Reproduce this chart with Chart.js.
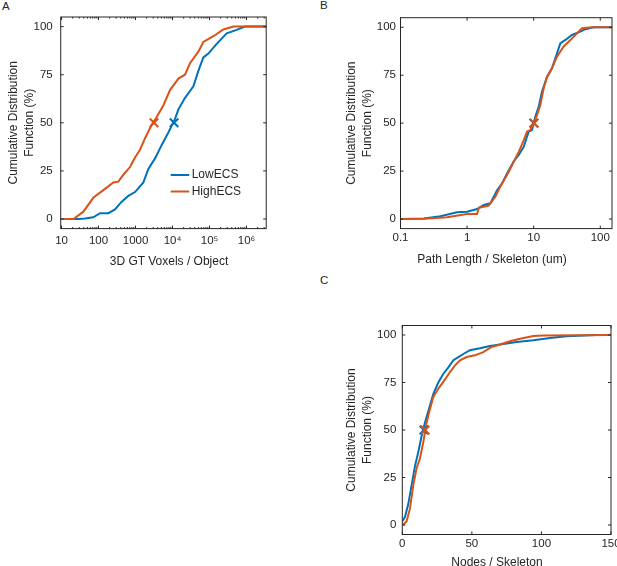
<!DOCTYPE html>
<html lang="en">
<head>
<meta charset="utf-8">
<title>Cumulative distributions: LowECS vs HighECS</title>
<script src="https://cdn.jsdelivr.net/npm/chart.js@4.4.1/dist/chart.umd.min.js"></script>
<style>
    html, body { margin: 0; padding: 0; background: #fff; overflow: hidden; }
    #wrapper {
        position: relative; width: 617px; height: 566px; overflow: hidden;
        font-family: "Liberation Sans", Arial, sans-serif; color: #262626;
    }
    .panel-letter { position: absolute; font-size: 11.5px; line-height: 11.5px; }
    .x-title { position: absolute; width: 240px; text-align: center; font-size: 12px; line-height: 14px; white-space: nowrap; }
    canvas { position: absolute; }
</style>
</head>
<body>
<div id="wrapper"><!-- figure wrapper -->
    <div class="panel-letter" style="left:2px; top:1px;">A</div>
    <div class="panel-letter" style="left:320px; top:0px;">B</div>
    <div class="panel-letter" style="left:320px; top:275px;">C</div>

    <canvas id="chartA" width="300" height="290" style="left:0px; top:0px;"></canvas>
    <canvas id="chartB" width="330" height="290" style="left:300px; top:0px;"></canvas>
    <canvas id="chartC" width="330" height="300" style="left:300px; top:280px;"></canvas>

    <div class="x-title" style="left:49px; top:254px;">3D GT Voxels / Object</div>
    <div class="x-title" style="left:372px; top:252px;">Path Length / Skeleton (um)</div>
    <div class="x-title" style="left:377px; top:555px;">Nodes / Skeleton</div>
</div>

<script>
// ---- data ----
var seriesNames = ['LowECS', 'HighECS'];
var yTicks = [0, 25, 50, 75, 100];

// A: voxels per object (log x)
var aLowX  = [9.5, 28.5, 43, 72, 110, 185, 279, 423, 640, 970, 1630, 2220, 3370, 5100, 7710, 11700, 14400, 21800, 36600, 49900, 68100, 93000, 156000, 291000, 542000, 910000, 3400000];
var aLowY  = [0, 0, 0.3, 0.9, 3, 3, 5, 9, 12, 14, 19, 26, 31.5, 38.5, 45, 52, 57, 63, 69, 77, 84, 86, 91, 96.5, 98.3, 100, 100];
var aHighX = [9.5, 21, 39, 72, 135, 252, 344, 469, 710, 970, 1320, 1810, 2740, 3730, 5640, 8550, 14400, 21700, 29700, 49900, 68100, 127000, 237000, 441000, 3400000];
var aHighY = [0, 0, 3.8, 11, 15, 19, 19.4, 23, 27, 32, 36, 42, 49, 53, 59, 67, 73, 75, 81, 87, 92, 95, 98.5, 100, 100];
var aMedLow = [11000, 50];
var aMedHigh = [3160, 50];
var aXTicks = [10, 100, 1000, 1e4, 1e5, 1e6];
var aXLabels = ['10', '100', '1000', '10\u2074', '10\u2075', '10\u2076'];

// B: path length per skeleton (log x)
var bLowX  = [0.1, 0.224, 0.398, 0.708, 1, 1.41, 1.78, 2.24, 2.82, 3.35, 3.98, 5.01, 5.96, 7.08, 8.41, 9.44, 10.6, 11.9, 13.3, 15.8, 18.8, 22.4, 25.1, 29.9, 37.6, 50.1, 59.6, 79.4, 150];
var bLowY  = [0, 0.3, 1.4, 3.5, 3.8, 5.2, 7.3, 8.2, 15, 18.6, 23.8, 30, 33.4, 37.7, 45.6, 46.4, 53.4, 58.6, 66.4, 74, 78.6, 86.4, 91.6, 93.4, 96, 97.7, 99, 100, 100];
var bHighX = [0.1, 0.224, 0.501, 1, 1.41, 1.5, 1.78, 2.11, 2.66, 3.16, 3.98, 4.73, 5.31, 5.96, 7.08, 7.94, 8.91, 10, 11.2, 12.6, 14.1, 15.8, 18.8, 22.4, 28.2, 33.5, 39.8, 53.1, 75, 150];
var bHighY = [0, 0.2, 0.9, 2.6, 2.6, 5.9, 6.4, 7, 11.6, 17, 23, 28, 31.6, 35, 41, 45.6, 46.4, 50, 54, 59.5, 68, 74, 78.6, 84.7, 90, 92.5, 95, 99.5, 100, 100];
var bMedLow = [10, 50];
var bMedHigh = [10.2, 50];
var bXTicks = [0.1, 1, 10, 100];
var bXLabels = ['0.1', '1', '10', '100'];

// C: nodes per skeleton (linear x)
var cLowX  = [0, 1.9, 4.3, 6.7, 9.1, 11.5, 13.9, 16.3, 18.7, 22.3, 25.9, 29.5, 33.1, 36.7, 40.3, 43.9, 48.6, 55.8, 63, 70.2, 82.2, 94.2, 106.2, 118.1, 140];
var cLowY  = [2, 4.2, 11, 21, 31, 38.4, 47, 54, 60, 69, 75, 79.6, 83, 86.7, 88.4, 90, 92, 93, 94.2, 95, 96.3, 97.2, 98.4, 99.3, 100];
var cHighX = [0.5, 3.1, 5.5, 7.9, 10.3, 12.7, 15.1, 17.5, 19.9, 22.3, 25.9, 29.5, 34.3, 37.9, 41.5, 46.2, 52.2, 58.2, 64.2, 70.2, 77.4, 84.6, 94.2, 101.4, 150];
var cHighY = [0, 2, 8.6, 21, 30, 35, 43.7, 54, 61, 67.4, 71.8, 75.3, 80.5, 84, 86.7, 88.4, 89.3, 91, 93.7, 95, 96.7, 98, 99.5, 99.8, 100];
var cMedLow = [15.5, 50];
var cMedHigh = [16.4, 50];
var cXTicks = [0, 50, 100, 150];
var cXLabels = ['0', '50', '100', '150'];

// ---- styling ----
var LOW_COLOR = '#0072BD';
var HIGH_COLOR = '#D95319';
var INK = '#262626';
Chart.defaults.font.family = '"Liberation Sans", Arial, sans-serif';
Chart.defaults.color = INK;

function toPoints(xs, ys) {
    return xs.map(function (x, i) { return { x: x, y: ys[i] }; });
}

// box round the axes with inward ticks on all four sides (matlab look)
var boxTicks = {
    id: 'boxTicks',
    afterDatasetsDraw: function (chart, args, opts) {
        var ctx = chart.ctx, a = chart.chartArea;
        var xs = chart.scales.x, ys = chart.scales.y;
        var seg = function (x1, y1, x2, y2) { ctx.moveTo(x1, y1); ctx.lineTo(x2, y2); };
        ctx.save();
        ctx.strokeStyle = INK;
        ctx.lineWidth = 1;
        ctx.beginPath();
        xs.ticks.forEach(function (t) {
            var p = xs.getPixelForValue(t.value);
            seg(p, a.bottom, p, a.bottom - 3);
            seg(p, a.top, p, a.top + 3);
        });
        ys.ticks.forEach(function (t) {
            var p = ys.getPixelForValue(t.value);
            seg(a.left, p, a.left + 3, p);
            seg(a.right, p, a.right - 3, p);
        });
        if (opts.minor) {
            for (var d = Math.floor(Math.log10(xs.min)); d <= Math.ceil(Math.log10(xs.max)); d++) {
                for (var k = 2; k <= 9; k++) {
                    var v = k * Math.pow(10, d);
                    if (v < xs.min || v > xs.max) continue;
                    var p = xs.getPixelForValue(v);
                    seg(p, a.bottom, p, a.bottom - 1.6);
                    seg(p, a.top, p, a.top + 1.6);
                }
            }
        }
        ctx.stroke();
        ctx.strokeRect(a.left, a.top, a.right - a.left, a.bottom - a.top);
        ctx.restore();
    }
};

// legend inside panel A
var cdfLegend = {
    id: 'cdfLegend',
    afterDraw: function (chart, args, opts) {
        var ctx = chart.ctx;
        ctx.save();
        ctx.font = '12px "Liberation Sans", Arial, sans-serif';
        ctx.textBaseline = 'middle';
        opts.items.forEach(function (it, i) {
            var y = opts.y + i * opts.gap;
            ctx.strokeStyle = it.color;
            ctx.lineWidth = 2;
            ctx.beginPath();
            ctx.moveTo(opts.x, y);
            ctx.lineTo(opts.x + opts.len, y);
            ctx.stroke();
            ctx.fillStyle = INK;
            ctx.fillText(it.text, opts.x + opts.len + 2.5, y);
        });
        ctx.restore();
    }
};

function cdfPanel(id, p) {
    var canvas = document.getElementById(id);
    var W = canvas.width, H = canvas.height;
    return new Chart(canvas, {
        type: 'line',
        data: {
            datasets: [
                { label: seriesNames[1] + ' median', data: [{ x: p.medHigh[0], y: p.medHigh[1] }], showLine: false,
                  pointStyle: 'crossRot', pointRadius: 6, pointBorderWidth: 2, borderColor: HIGH_COLOR, order: 0 },
                { label: seriesNames[0] + ' median', data: [{ x: p.medLow[0], y: p.medLow[1] }], showLine: false,
                  pointStyle: 'crossRot', pointRadius: 6, pointBorderWidth: 2, borderColor: LOW_COLOR, order: 1 },
                { label: seriesNames[1], data: toPoints(p.highX, p.highY), borderColor: HIGH_COLOR,
                  borderWidth: 2, pointRadius: 0, tension: 0, fill: false, order: 2 },
                { label: seriesNames[0], data: toPoints(p.lowX, p.lowY), borderColor: LOW_COLOR,
                  borderWidth: 2, pointRadius: 0, tension: 0, fill: false, order: 3 }
            ]
        },
        options: {
            responsive: false,
            animation: false,
            events: [],
            layout: { padding: { left: 0, top: p.area.top, right: W - p.area.right, bottom: 0 } },
            plugins: {
                legend: { display: false },
                tooltip: { enabled: false },
                boxTicks: { minor: p.minor },
                cdfLegend: p.legend || false
            },
            scales: {
                x: {
                    type: p.xType, min: p.xMin, max: p.xMax,
                    grid: { display: false, drawTicks: false },
                    border: { display: false },
                    afterFit: function (s) { s.height = H - p.area.bottom; },
                    afterBuildTicks: function (s) { s.ticks = p.xTicks.map(function (v) { return { value: v }; }); },
                    ticks: {
                        padding: p.xTickPad, autoSkip: false, maxRotation: 0, color: INK,
                        font: { size: 11.5 },
                        callback: function (v, i) { return p.xLabels[i]; }
                    }
                },
                y: {
                    type: 'linear', min: -5, max: 105,
                    grid: { display: false, drawTicks: false },
                    border: { display: false },
                    afterFit: function (s) { s.width = p.area.left; },
                    afterBuildTicks: function (s) { s.ticks = yTicks.map(function (v) { return { value: v }; }); },
                    ticks: { padding: p.yTickPad, color: INK, font: { size: 11.5 } },
                    title: {
                        display: true, text: ['Cumulative Distribution', 'Function (%)'], color: INK,
                        font: { size: 12, lineHeight: 1.333 }, padding: { top: p.yTitlePad, bottom: 0 }
                    }
                }
            }
        },
        plugins: [boxTicks, cdfLegend]
    });
}

cdfPanel('chartA', {
    lowX: aLowX, lowY: aLowY, highX: aHighX, highY: aHighY, medLow: aMedLow, medHigh: aMedHigh,
    xType: 'logarithmic', xMin: 9.5, xMax: 3400000, xTicks: aXTicks, xLabels: aXLabels, minor: true,
    area: { left: 60.7, right: 266.2, top: 17, bottom: 228.6 },
    xTickPad: 5.7, yTickPad: 8, yTitlePad: 6,
    legend: { x: 170.7, y: 175, gap: 16.5, len: 18.5,
              items: [{ text: seriesNames[0], color: LOW_COLOR }, { text: seriesNames[1], color: HIGH_COLOR }] }
});

cdfPanel('chartB', {
    lowX: bLowX, lowY: bLowY, highX: bHighX, highY: bHighY, medLow: bMedLow, medHigh: bMedHigh,
    xType: 'logarithmic', xMin: 0.1, xMax: 150, xTicks: bXTicks, xLabels: bXLabels, minor: false,
    area: { left: 100.5, right: 312, top: 17.7, bottom: 228.6 },
    xTickPad: 2.5, yTickPad: 4.5, yTitlePad: 43.7
});

cdfPanel('chartC', {
    lowX: cLowX, lowY: cLowY, highX: cHighX, highY: cHighY, medLow: cMedLow, medHigh: cMedHigh,
    xType: 'linear', xMin: 0, xMax: 150, xTicks: cXTicks, xLabels: cXLabels, minor: false,
    area: { left: 102.3, right: 311, top: 45.5, bottom: 254.5 },
    xTickPad: 2.8, yTickPad: 6, yTitlePad: 43.7
});
</script>
</body>
</html>
